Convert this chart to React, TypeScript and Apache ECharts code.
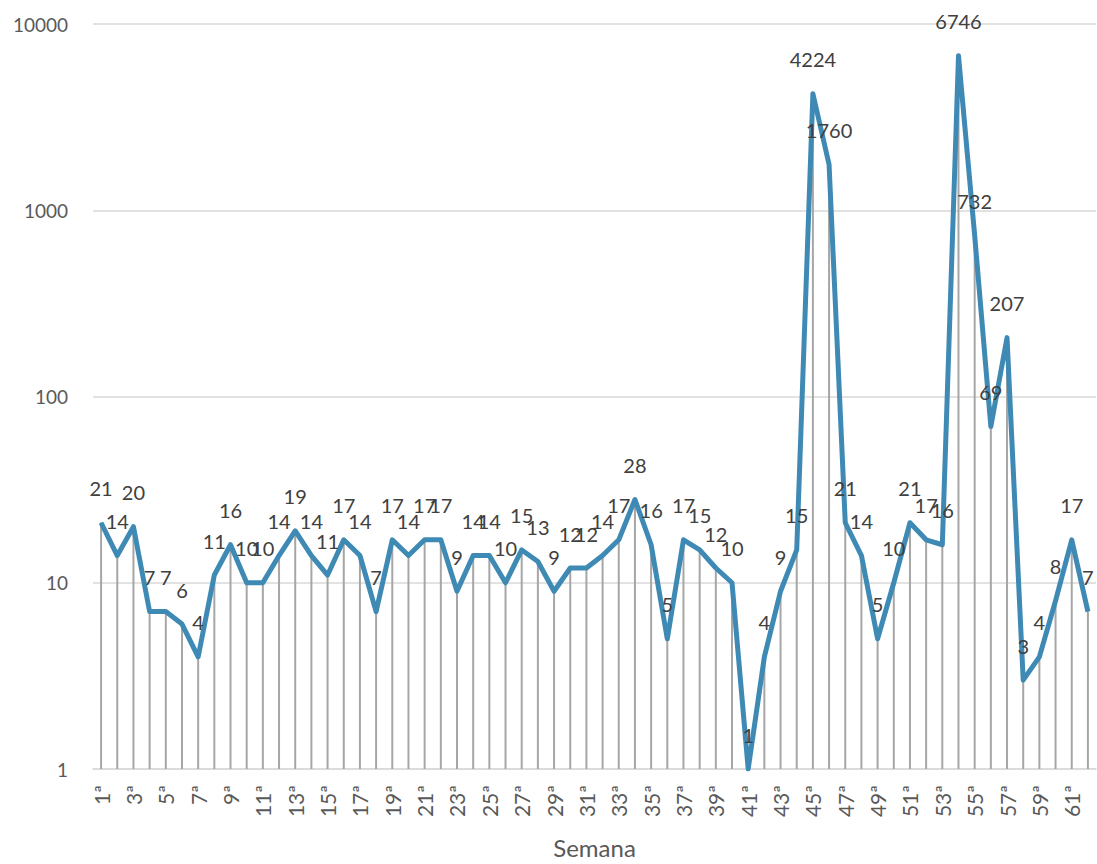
import React, { useEffect, useRef } from "react";
import * as echarts from "echarts";

const weeks: string[] = Array.from({ length: 62 }, (_, i) => `${i + 1}ª`);
const values: number[] = [
  21, 14, 20, 7, 7, 6, 4, 11, 16, 10,
  10, 14, 19, 14, 11, 17, 14, 7, 17, 14,
  17, 17, 9, 14, 14, 10, 15, 13, 9, 12,
  12, 14, 17, 28, 16, 5, 17, 15, 12, 10,
  1, 4, 9, 15, 4224, 1760, 21, 14, 5, 10,
  21, 17, 16, 6746, 732, 69, 207, 3, 4, 8,
  17, 7,
];
const xTitle = "Semana";

const FONT = "Lato, 'Noto Sans', sans-serif";

export default function App() {
  const ref = useRef<HTMLDivElement>(null);
  useEffect(() => {
    if (!ref.current) return;
    const chart = echarts.init(ref.current, undefined, { renderer: "svg" });
    chart.setOption({
      animation: false,
      backgroundColor: "#ffffff",
      grid: { left: 93, right: 1, top: 24, bottom: 95, containLabel: false },
      xAxis: {
        type: "category",
        data: weeks,
        boundaryGap: true,
        name: xTitle,
        nameLocation: "middle",
        nameGap: 66,
        nameTextStyle: { fontFamily: FONT, fontSize: 24, color: "#595959" },
        axisLine: { lineStyle: { color: "#d9d9d9", width: 1.5 } },
        axisTick: { show: false },
        axisLabel: {
          interval: 1,
          rotate: 90,
          fontFamily: FONT,
          fontSize: 21,
          color: "#595959",
          margin: 16,
        },
      },
      yAxis: {
        type: "log",
        logBase: 10,
        min: 1,
        max: 10000,
        axisLine: { show: false },
        axisTick: { show: false },
        splitLine: { lineStyle: { color: "#d9d9d9", width: 1.5 } },
        axisLabel: {
          fontFamily: FONT,
          fontSize: 19,
          color: "#595959",
          margin: 25,
          formatter: (v: number) => String(Math.round(v)),
        },
      },
      series: [
        {
          type: "custom",
          z: 1,
          silent: true,
          data: values.map((v, i) => [i, v]),
          encode: { x: 0, y: 1 },
          renderItem: (params: any, api: any) => {
            const idx = api.value(0);
            const val = api.value(1);
            const top = api.coord([idx, val]);
            const bottom = api.coord([idx, 1]);
            return {
              type: "line",
              shape: { x1: top[0], y1: top[1], x2: bottom[0], y2: bottom[1] },
              style: { stroke: "#a6a6a6", lineWidth: 2 },
            };
          },
        },
        {
          type: "line",
          z: 3,
          data: values,
          symbol: "circle",
          symbolSize: 1,
          showSymbol: true,
          itemStyle: { color: "#3f8ab5" },
          lineStyle: { color: "#3f8ab5", width: 5, join: "round" },
          label: {
            show: true,
            position: "top",
            distance: 24,
            fontFamily: FONT,
            fontSize: 20,
            color: "#404040",
          },
        },
      ],
    });
    return () => chart.dispose();
  }, []);
  return (
    <div
      ref={ref}
      style={{ position: "absolute", left: 0, top: 0, width: 1097, height: 864 }}
    />
  );
}
